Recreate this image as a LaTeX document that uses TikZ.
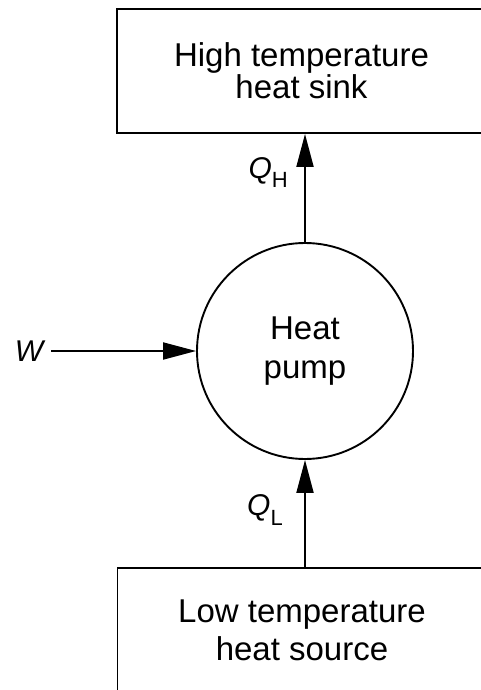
\documentclass[tikz,border=0pt]{standalone}
\usepackage{fontspec}
\setmainfont{Liberation Sans}
\usetikzlibrary{arrows.meta,positioning}

\begin{document}
\begin{tikzpicture}[x=1pt, y=-1pt,
    reservoir/.style={rectangle, draw, line width=1.9pt, minimum width=369pt,
                      minimum height=124pt, align=center,
                      font=\fontsize{33}{30}\selectfont},
    pump/.style={circle, draw, line width=1.9pt, minimum size=216pt, align=center,
                 font=\fontsize{33}{39}\selectfont},
    lbl/.style={font=\fontsize{30}{30}\selectfont\itshape, inner sep=2pt},
    arr/.style={line width=1.9pt, -{Triangle[length=33pt,width=17pt]}}]

    \useasboundingbox (0,0) rectangle (481,690);
    \clip (0,0) rectangle (481,690);

    % Reservoirs
    \node[reservoir] (sink) at (301.5,71) {High temperature\\heat sink};
    \node[reservoir] (source) at (302,630) {Low temperature\\[6pt]heat source};
    % Heat pump
    \node[pump] (hp) at (305,351) {Heat\\pump};
    % Work
    \node[lbl] (w) at (29,351) {W};

    \draw[arr] (hp.north) -- (sink.south -| hp.north);
    \draw[arr] (source.north -| hp.south) -- (hp.south);
    \draw[arr, shorten <=6pt] (w.east) -- (hp.west);

    \node[lbl, anchor=base east] (qh) at (290,178) {Q\raisebox{-9pt}{\upshape\fontsize{22}{22}\selectfont H}};
    \node[lbl, anchor=base east] (ql) at (285,515) {Q\raisebox{-10pt}{\upshape\fontsize{22}{22}\selectfont L}};
\end{tikzpicture}
\end{document}
